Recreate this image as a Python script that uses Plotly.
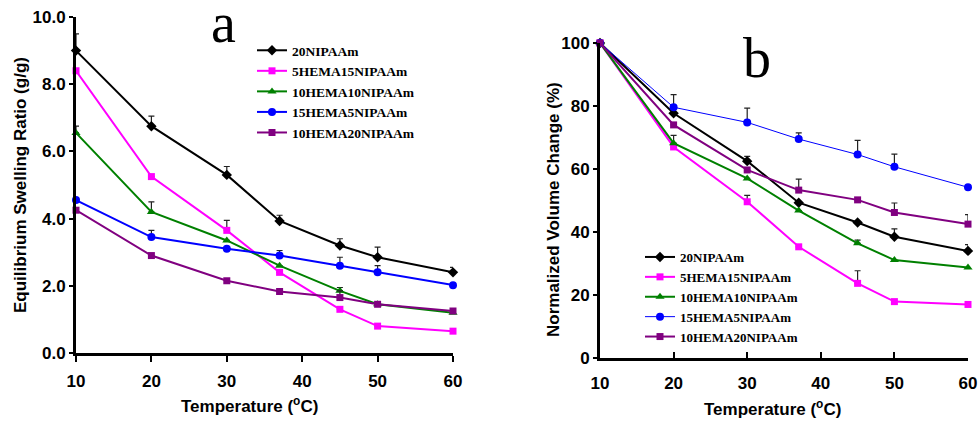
import plotly.graph_objects as go

W, H = 979, 423

temps = [10, 20, 30, 37, 45, 50, 60]
names = ["20NIPAAm", "5HEMA15NIPAAm", "10HEMA10NIPAAm", "15HEMA5NIPAAm", "10HEMA20NIPAAm"]
colors = ["#000000", "#FF00FF", "#008000", "#0000FF", "#800080"]
symbols = ["diamond", "square", "triangle-up", "circle", "square"]

# Panel a: equilibrium swelling ratio (g/g)
swell_20NIPAAm = [9.0, 6.75, 5.3, 3.93, 3.2, 2.85, 2.4]
swell_5HEMA15 = [8.4, 5.25, 3.65, 2.4, 1.3, 0.8, 0.65]
swell_10HEMA10 = [6.55, 4.2, 3.35, 2.6, 1.85, 1.45, 1.2]
swell_15HEMA5 = [4.55, 3.45, 3.1, 2.9, 2.6, 2.4, 2.02]
swell_10HEMA20 = [4.25, 2.9, 2.15, 1.83, 1.65, 1.45, 1.25]

swell_err_20NIPAAm = [0.5, 0.3, 0.25, 0.17, 0.2, 0.3, 0.15]
swell_err_5HEMA15 = [0, 0, 0.3, 0, 0, 0, 0]
swell_err_10HEMA10 = [0.2, 0.3, 0, 0, 0.1, 0, 0]
swell_err_15HEMA5 = [0, 0.2, 0, 0.15, 0.25, 0.2, 0]
swell_err_10HEMA20 = [0, 0, 0, 0, 0.2, 0, 0]

# Panel b: normalized volume change (%)
vol_20NIPAAm = [100, 77.7, 62.5, 49.3, 43, 38.5, 34]
vol_5HEMA15 = [100, 67, 49.6, 35.3, 23.7, 17.9, 17]
vol_10HEMA10 = [100, 68.2, 57, 46.8, 36.4, 31.1, 28.7]
vol_15HEMA5 = [100, 79.6, 74.8, 69.5, 64.6, 60.7, 54.2]
vol_10HEMA20 = [100, 74, 59.7, 53.3, 50.2, 46.2, 42.5]

vol_err_20NIPAAm = [0, 0, 1.5, 0, 0, 2.5, 2]
vol_err_5HEMA15 = [0, 0, 2, 0, 4, 0, 0]
vol_err_10HEMA10 = [0, 2.5, 0, 0, 1, 0, 0]
vol_err_15HEMA5 = [0, 4, 4.5, 2, 4.5, 4, 0]
vol_err_10HEMA20 = [0, 0, 0, 3.5, 0, 3, 3]

swell = [swell_20NIPAAm, swell_5HEMA15, swell_10HEMA10, swell_15HEMA5, swell_10HEMA20]
swell_err = [swell_err_20NIPAAm, swell_err_5HEMA15, swell_err_10HEMA10, swell_err_15HEMA5, swell_err_10HEMA20]
vol = [vol_20NIPAAm, vol_5HEMA15, vol_10HEMA10, vol_15HEMA5, vol_10HEMA20]
vol_err = [vol_err_20NIPAAm, vol_err_5HEMA15, vol_err_10HEMA10, vol_err_15HEMA5, vol_err_10HEMA20]

x_ticks = [10, 20, 30, 40, 50, 60]
a_yticks = [0, 2, 4, 6, 8, 10]
b_yticks = [0, 20, 40, 60, 80, 100]

fig = go.Figure()

for i in range(5):
    fig.add_trace(go.Scatter(
        x=temps, y=swell[i], name=names[i], mode="lines+markers",
        line=dict(color=colors[i], width=2),
        marker=dict(symbol=symbols[i], size=8 if symbols[i] != "square" else 7, color=colors[i]),
        error_y=dict(type="data", symmetric=False, array=swell_err[i],
                     arrayminus=[0] * 7, color="#222222", thickness=1.2, width=3),
        xaxis="x", yaxis="y", legend="legend", cliponaxis=False,
    ))

for i in range(5):
    fig.add_trace(go.Scatter(
        x=temps, y=vol[i], name=names[i], mode="lines+markers",
        line=dict(color=colors[i], width=1 if i == 3 else 2),
        marker=dict(symbol=symbols[i], size=8 if symbols[i] != "square" else 7, color=colors[i]),
        error_y=dict(type="data", symmetric=False, array=vol_err[i],
                     arrayminus=[0] * 7, color="#222222", thickness=1.2, width=3),
        xaxis="x2", yaxis="y2", legend="legend2", cliponaxis=False,
    ))

def px_x(p):
    return p / W

def px_y(p):
    return 1 - p / H

tickfont = dict(family="Liberation Sans, Arial", size=17, color="black", weight="bold")
axis_common = dict(showgrid=False, zeroline=False, showline=True, linecolor="black",
                   linewidth=3, tickfont=tickfont, tickcolor="black", tickwidth=2,
                   automargin=False)

legend_font = dict(family="Liberation Serif, Times New Roman", size=13.5,
                   color="black", weight="bold")

fig.update_layout(
    template="none",
    width=W, height=H,
    margin=dict(l=0, r=0, t=0, b=0, pad=0),
    paper_bgcolor="white", plot_bgcolor="white",
    xaxis=dict(domain=[px_x(76), px_x(453)], range=[10, 60], tickvals=x_ticks,
               ticks="outside", ticklen=6, ticklabelstandoff=5, anchor="y", **axis_common),
    yaxis=dict(domain=[px_y(353), px_y(17)], range=[0, 10], tickvals=a_yticks,
               tickformat=".1f", ticks="outside", ticklen=4, anchor="x", **axis_common),
    xaxis2=dict(domain=[px_x(600), px_x(968)], range=[10, 60], tickvals=x_ticks,
                ticks="inside", ticklen=6, ticklabelstandoff=8, anchor="y2", **axis_common),
    yaxis2=dict(domain=[px_y(358), px_y(43)], range=[0, 100], tickvals=b_yticks,
                ticks="outside", ticklen=4, anchor="x2", **axis_common),
    legend=dict(x=px_x(252), y=px_y(35), xanchor="left", yanchor="top",
                bgcolor="rgba(0,0,0,0)", itemwidth=30, tracegroupgap=0,
                borderwidth=0, font=legend_font),
    legend2=dict(x=px_x(640), y=px_y(242), xanchor="left", yanchor="top",
                 bgcolor="rgba(0,0,0,0)", itemwidth=30, tracegroupgap=0,
                 borderwidth=0, font=dict(legend_font, size=13)),
    showlegend=True,
)

title_font = dict(family="Liberation Sans, Arial", size=17, color="black", weight="bold")
letter_font = dict(family="Liberation Serif, Times New Roman", size=56, color="black")

annos = [
    dict(text="a", x=px_x(223), y=px_y(23), font=letter_font),
    dict(text="b", x=px_x(757), y=px_y(58), font=letter_font),
    dict(text="Equilibrium Swelling Ratio (g/g)", x=px_x(20), y=px_y(185), textangle=-90, font=title_font),
    dict(text="Normalized Volume Change (%)", x=px_x(553), y=px_y(210), textangle=-90, font=title_font),
    dict(text="Temperature (<sup>o</sup>C)", x=px_x(250), y=px_y(405), font=title_font),
    dict(text="Temperature (<sup>o</sup>C)", x=px_x(772), y=px_y(408), font=title_font),
]
for a in annos:
    fig.add_annotation(xref="paper", yref="paper", xanchor="center", yanchor="middle",
                       showarrow=False, **a)

fig.write_html("out.html", config={"displayModeBar": False},
               post_script="document.body.style.margin='0';document.body.style.overflow='hidden';")
